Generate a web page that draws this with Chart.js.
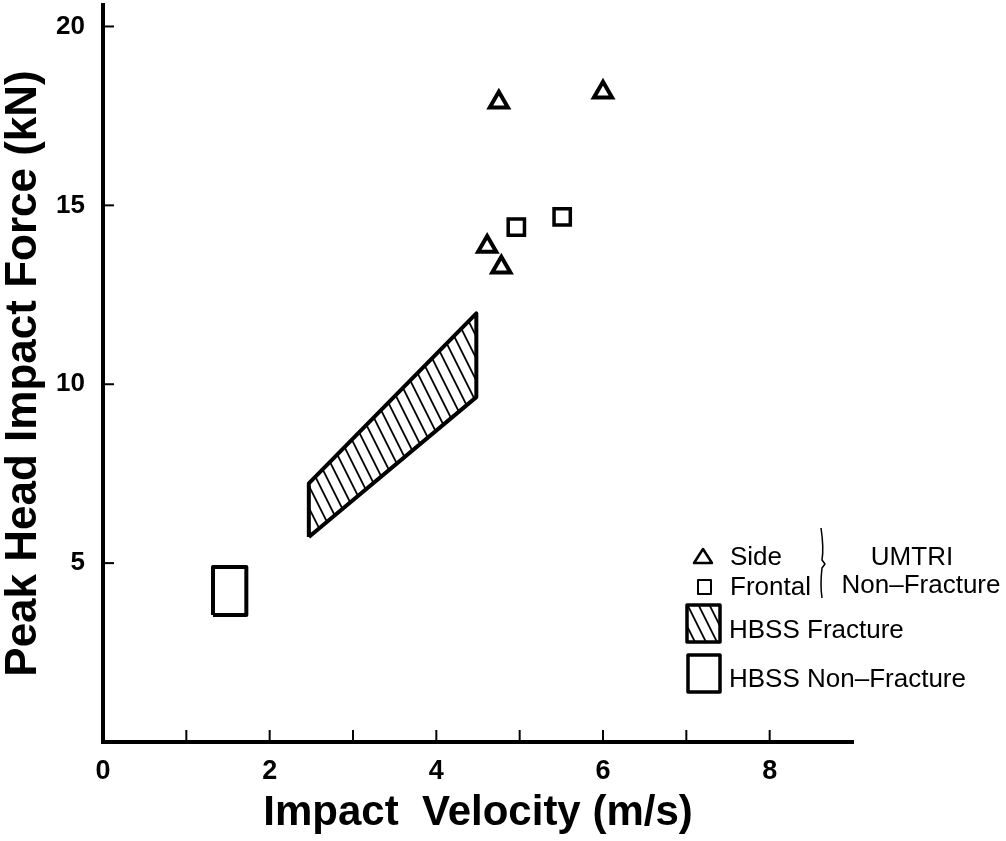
<!DOCTYPE html>
<html>
<head>
<meta charset="utf-8">
<script src="https://cdn.jsdelivr.net/npm/chart.js@4.4.1/dist/chart.umd.min.js"></script>
<style>
  body { margin: 0; background: #fff; }
  #wrap { width: 1006px; height: 841px; }
</style>
</head>
<body>
<div id="wrap"><canvas id="myChart" width="1006" height="841"></canvas></div>
<script>
// UMTRI non-fracture points
var sideX = [4.75, 6.0, 4.61, 4.78];
var sideY = [17.88, 18.16, 13.85, 13.27];
var frontalX = [4.96, 5.51];
var frontalY = [14.39, 14.68];

// HBSS regions (outline corners, closed)
var fractureX = [2.47, 2.47, 4.48, 4.48, 2.47];
var fractureY = [5.73, 7.23, 11.98, 9.64, 5.73];
var nonFractureX = [1.32, 1.32, 1.72, 1.72, 1.32];
var nonFractureY = [3.55, 4.89, 4.89, 3.55, 3.55];

// ticks
var xTickMarks = [1, 2, 3, 4, 5, 6, 7, 8];
var xTickLabels = [0, 2, 4, 6, 8];
var yTickMarks = [5, 10, 15, 20];

function toPoints(xs, ys) {
  var out = [];
  for (var i = 0; i < xs.length; i++) {
    out.push({ x: xs[i], y: ys[i] });
  }
  return out;
}

// hatch pattern "\\\"
function makeHatch() {
  var w = 11, h = 22;
  var c = document.createElement('canvas');
  c.width = w; c.height = h;
  var g = c.getContext('2d');
  g.fillStyle = '#fff';
  g.fillRect(0, 0, w, h);
  g.strokeStyle = '#000';
  g.lineWidth = 1.8;
  for (var k = -1; k <= 1; k++) {
    g.beginPath();
    g.moveTo(k * w - 2, -4);
    g.lineTo(k * w + w + 2, h + 4);
    g.stroke();
  }
  return g.createPattern(c, 'repeat');
}
var hatch = makeHatch();

var font = "'Liberation Sans', Arial, sans-serif";

// pull the plot top up to 5px (axis runs nearly to the top edge)
var topPlugin = {
  id: 'plotTop',
  afterLayout: function (chart) {
    var y = chart.scales.y;
    var d = y.top - 5;
    if (d > 0) {
      chart.chartArea.top -= d;
      chart.chartArea.height += d;
      y.top -= d;
      y.height += d;
      y.configure();
    }
  }
};

// inward tick marks
var tickPlugin = {
  id: 'inwardTicks',
  afterDatasetsDraw: function (chart) {
    var ctx = chart.ctx;
    var xs = chart.scales.x, ys = chart.scales.y;
    var area = chart.chartArea;
    ctx.save();
    ctx.strokeStyle = '#000';
    ctx.lineWidth = 2;
    xTickMarks.forEach(function (v) {
      var px = xs.getPixelForValue(v);
      ctx.beginPath();
      ctx.moveTo(px, area.bottom);
      ctx.lineTo(px, area.bottom - 12);
      ctx.stroke();
    });
    yTickMarks.forEach(function (v) {
      var py = ys.getPixelForValue(v);
      ctx.beginPath();
      ctx.moveTo(area.left, py);
      ctx.lineTo(area.left + 11, py);
      ctx.stroke();
    });
    ctx.restore();
  }
};

// legend in lower right
var legendPlugin = {
  id: 'paperLegend',
  afterDraw: function (chart) {
    var ctx = chart.ctx;
    ctx.save();
    ctx.strokeStyle = '#000';
    ctx.fillStyle = '#000';
    ctx.lineJoin = 'round';

    // triangle
    ctx.lineWidth = 2.5;
    ctx.beginPath();
    ctx.moveTo(703, 549);
    ctx.lineTo(712, 563);
    ctx.lineTo(694, 563);
    ctx.closePath();
    ctx.stroke();
    // square
    ctx.lineWidth = 2;
    ctx.strokeRect(698, 580, 13, 14);

    // brace
    ctx.lineWidth = 1.5;
    ctx.beginPath();
    ctx.moveTo(821, 528);
    ctx.quadraticCurveTo(824, 548, 822, 560);
    ctx.lineTo(825, 564);
    ctx.lineTo(822, 568);
    ctx.quadraticCurveTo(820, 585, 822, 598);
    ctx.stroke();

    // hatched box
    ctx.lineWidth = 3.5;
    ctx.fillStyle = hatch;
    ctx.fillRect(687, 605, 33, 37);
    ctx.strokeRect(687, 605, 33, 37);
    // plain box
    ctx.fillStyle = '#fff';
    ctx.fillRect(688, 655, 32, 37);
    ctx.strokeRect(688, 655, 32, 37);

    ctx.fillStyle = '#000';
    ctx.font = '26px ' + font;
    ctx.textBaseline = 'alphabetic';
    ctx.textAlign = 'left';
    ctx.fillText('Side', 730, 565);
    ctx.fillText('Frontal', 730, 595);
    ctx.fillText('HBSS Fracture', 729, 638);
    ctx.fillText('HBSS Non\u2013Fracture', 729, 687);
    ctx.textAlign = 'center';
    ctx.fillText('UMTRI', 912, 565);
    ctx.fillText('Non\u2013Fracture', 921, 593);
    ctx.restore();
  }
};

var ctx = document.getElementById('myChart');
var myChart = new Chart(ctx, {
  type: 'scatter',
  data: {
    datasets: [
      {
        label: 'HBSS Fracture',
        data: toPoints(fractureX, fractureY),
        showLine: true,
        fill: 'shape',
        backgroundColor: hatch,
        borderColor: '#000',
        borderWidth: 4,
        borderJoinStyle: 'round',
        pointRadius: 0,
        tension: 0
      },
      {
        label: 'HBSS Non-Fracture',
        data: toPoints(nonFractureX, nonFractureY),
        showLine: true,
        fill: 'shape',
        backgroundColor: '#fff',
        borderColor: '#000',
        borderWidth: 4,
        borderJoinStyle: 'round',
        pointRadius: 0,
        tension: 0
      },
      {
        label: 'Side',
        data: toPoints(sideX, sideY),
        pointStyle: 'triangle',
        pointRadius: 10.5,
        borderWidth: 4,
        borderColor: '#000',
        backgroundColor: '#fff'
      },
      {
        label: 'Frontal',
        data: toPoints(frontalX, frontalY),
        pointStyle: 'rect',
        pointRadius: 11.5,
        borderWidth: 3.5,
        borderColor: '#000',
        backgroundColor: '#fff'
      }
    ]
  },
  options: {
    responsive: false,
    animation: false,
    devicePixelRatio: 1,
    layout: { padding: { top: 5, right: 153, left: 0, bottom: 0 } },
    plugins: {
      legend: { display: false },
      tooltip: { enabled: false }
    },
    scales: {
      x: {
        type: 'linear',
        min: 0,
        max: 9,
        afterFit: function (s) { s.height = 99; s.paddingLeft = 0; s.paddingRight = 0; },
        border: { display: true, width: 4, color: '#000' },
        grid: { display: true, drawOnChartArea: false, drawTicks: false, color: 'rgba(0,0,0,0)' },
        ticks: {
          stepSize: 1,
          autoSkip: false,
          includeBounds: false,
          maxRotation: 0,
          padding: 13,
          color: '#000',
          font: { family: font, size: 27, weight: 'bold' },
          callback: function (v) { return xTickLabels.indexOf(v) >= 0 ? v : ''; }
        },
        title: {
          display: true,
          text: 'Impact  Velocity (m/s)',
          color: '#000',
          font: { family: font, size: 42, weight: 'bold', lineHeight: 1.3 },
          padding: { top: 0, bottom: 0 }
        }
      },
      y: {
        type: 'linear',
        min: 0,
        max: 20.6,
        afterFit: function (s) { s.width = 103; },
        border: { display: true, width: 4, color: '#000' },
        grid: { display: true, drawOnChartArea: false, drawTicks: false, color: 'rgba(0,0,0,0)' },
        ticks: {
          stepSize: 5,
          autoSkip: false,
          includeBounds: false,
          padding: 18,
          color: '#000',
          font: { family: font, size: 26, weight: 'bold' },
          callback: function (v) { return yTickMarks.indexOf(v) >= 0 ? v : ''; }
        },
        title: {
          display: true,
          text: 'Peak Head Impact Force (kN)',
          color: '#000',
          font: { family: font, size: 44, weight: 'bold', lineHeight: 1.1 },
          padding: { top: 0, bottom: 0 }
        }
      }
    }
  },
  plugins: [topPlugin, tickPlugin, legendPlugin]
});
</script>
</body>
</html>
